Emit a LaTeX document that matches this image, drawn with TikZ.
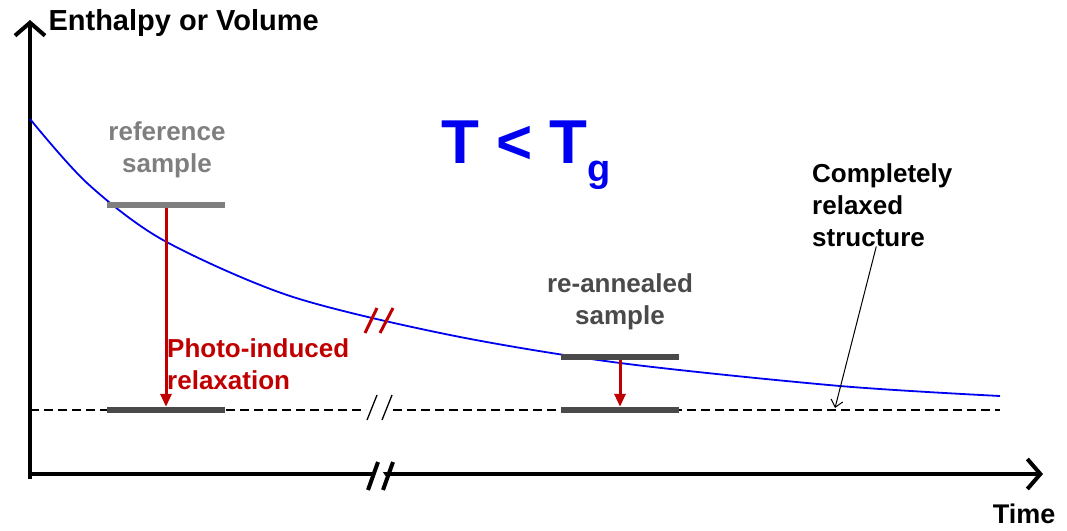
\documentclass[tikz,border=0pt]{standalone}
\usepackage{fontspec}
\setmainfont{Liberation Sans}
\usetikzlibrary{arrows.meta, positioning}
\definecolor{cblue}{HTML}{0000F0}
\definecolor{cred}{HTML}{C00000}
\definecolor{cgrey}{HTML}{7F7F7F}
\definecolor{cdark}{HTML}{4A4A4A}
\tikzset{
  every picture/.style={font=\bfseries},
  axis/.style={line width=4pt, -{Straight Barb[length=13pt, width=30pt]}},
  bar/.style={fill=#1, minimum width=118pt, minimum height=6pt, inner sep=0pt},
  bar/.default=cdark,
  drop/.style={draw=cred, line width=3pt, -{Triangle[length=13pt, width=11pt]}},
  lbl/.style={font=\fontsize{26}{32}\selectfont\bfseries, align=center, inner sep=0pt},
  pointer/.style={line width=1pt, -{Straight Barb[length=7pt, width=12pt]}},
}
\begin{document}
\begin{tikzpicture}[x=1pt, y=-1pt]
  \useasboundingbox (0,0) rectangle (1067,530);
  % axes
  \coordinate (O) at (30,478);
  \draw[axis] (30,479) -- (30,20) coordinate (ytip);
  \draw[axis] (28,474) -- (1043,474) coordinate (xtip);
  \fill[white] (370,468) -- (380,468) -- (388,480) -- (378,480) -- cycle;
  \draw[line width=4pt] (368,490) -- (378,462) (383,490) -- (393,462);
  \node[font=\fontsize{29}{34}\selectfont\bfseries, anchor=west] (ylab) at (45,23) {Enthalpy or Volume};
  \node[font=\fontsize{27}{32}\selectfont\bfseries] (xlab) at (1024,514) {Time};
  % completely relaxed level
  \draw[dashed, dash pattern=on 9pt off 5pt, line width=1.9pt] (30,410) -- (366,410) (393,410) -- (1000,410);
  \draw[line width=1.3pt] (367,420) -- (377,395) (382,420) -- (392,395);
  % relaxation curve
  \draw[cblue, line width=1.8pt] plot[smooth] coordinates {(30,119) (87,183) (163,240) (290,296) (450,335) (620,363) (840,386) (1000,396)};
  \draw[cred, line width=3pt] (365,333) -- (377,308) (380,333) -- (393,308);
  \node[font=\fontsize{62}{70}\selectfont\bfseries, text=cblue] (tg) at (526,155) {T < T\raisebox{-0.3em}{\fontsize{38}{40}\selectfont g}};
  % samples
  \node[bar=cgrey] (ref) at (166,205) {};
  \node[bar] (ref0) at (166,410) {};
  \node[bar] (ann) at (620,357) {};
  \node[bar] (ann0) at (620,410) {};
  \node[lbl, text=cgrey] (reflab) at (167,150) {reference\\sample};
  \node[lbl, text=cdark] (annlab) at (620,302) {re-annealed\\sample};
  \draw[drop] (ref.south) -- (ref0.north);
  \draw[drop] (ann.south) -- (ann0.north);
  \node[lbl, text=cred, align=left, anchor=north west] (photo) at (167,338) {Photo-induced\\relaxation};
  \node[lbl, align=left, anchor=north west] (cr) at (812,163) {Completely\\relaxed\\structure};
  \coordinate (crtip) at (835,408);
  \draw[pointer] ([xshift=-6pt]cr.south) -- (crtip);
\end{tikzpicture}
\end{document}
